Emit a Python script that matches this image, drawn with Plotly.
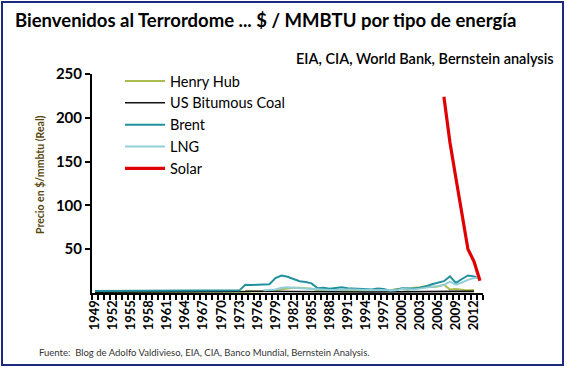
import plotly.graph_objects as go

years = list(range(1949, 2014))

henry_hub = [1.0]*25 + [1.2, 1.4, 1.8, 2.0, 2.2, 3.5, 4.5, 5.5, 6.0, 6.0, 5.5, 5.0, 3.0, 2.5, 2.3, 2.3, 2.5, 2.5, 2.2, 2.0, 2.0, 2.3, 2.8, 2.5, 2.5, 4.5, 4.5, 3.5, 6.0, 6.5, 8.0, 7.0, 7.5, 9.5, 4.0, 4.5, 4.0, 3.0, 3.5]
us_coal = [1.0]*25 + [1.8, 2.0, 2.0, 2.0, 2.0, 2.0, 2.0, 2.0, 1.8, 1.8, 1.7, 1.5, 1.4, 1.3, 1.3, 1.3, 1.2, 1.2, 1.2, 1.2, 1.2, 1.1, 1.1, 1.1, 1.0, 1.0, 1.1, 1.1, 1.1, 1.2, 1.4, 1.5, 1.5, 1.7, 1.8, 1.8, 1.9, 1.8, 1.8]
brent = [2.3]*24 + [3.0, 9.5, 9.0, 9.5, 9.5, 10.0, 17.0, 20.0, 18.5, 16.0, 13.5, 12.5, 11.0, 5.5, 6.0, 5.0, 5.5, 6.5, 5.5, 5.0, 4.5, 4.0, 4.0, 5.0, 4.5, 2.5, 3.5, 5.5, 5.0, 5.0, 6.0, 7.5, 10.0, 12.0, 13.5, 19.0, 11.5, 16.0, 20.0, 19.0, 16.0]
lng = [None]*28 + [3.0, 3.5, 4.0, 6.0, 6.5, 6.0, 5.5, 5.5, 5.0, 4.0, 3.5, 3.5, 3.5, 4.0, 4.0, 4.0, 3.5, 3.5, 3.5, 3.5, 3.5, 3.0, 3.0, 4.5, 4.5, 4.0, 5.0, 6.0, 7.5, 8.5, 9.0, 13.0, 9.5, 12.0, 15.0, 17.0, 17.0]
solar = [None]*58 + [224, 172, 131, 92, 50, 36, 14]

series = [
    ("Henry Hub", henry_hub, "#a9bd52", 2),
    ("US Bitumous Coal", us_coal, "#111111", 1.6),
    ("Brent", brent, "#23909e", 2),
    ("LNG", lng, "#93cfdb", 2),
    ("Solar", solar, "#e00000", 3.2),
]

fig = go.Figure()
for i, (name, vals, color, w) in enumerate(series):
    fig.add_trace(go.Scatter(x=years, y=vals, name=name, mode="lines",
                             line=dict(color=color, width=w), legendgroup=f"g{i}"))

L, R, T, B = 92, 84, 74, 75
PW, PH = 567 - L - R, 368 - T - B
def px(x): return (x - L) / PW
def py(y): return (368 - B - y) / PH

fig.update_layout(
    width=567, height=368,
    margin=dict(l=L, r=R, t=T, b=B),
    paper_bgcolor="white", plot_bgcolor="white",
    font=dict(family="Lato, 'Open Sans', sans-serif", color="black"),
    showlegend=True,
    legend=dict(x=px(120), y=py(65), xanchor="left", yanchor="top",
                bgcolor="rgba(0,0,0,0)", font=dict(size=14.5, color="black"),
                tracegroupgap=0, itemwidth=40),
    xaxis=dict(range=[1948.5, 2013.5], tickmode="linear", tick0=1949, dtick=3,
               tickangle=-90, ticks="", showgrid=False, zeroline=False,
               showline=True, linecolor="black", linewidth=2,
               tickfont=dict(size=13, color="black", weight="bold"),
               minor=dict(ticks="outside", tick0=1948.5, dtick=1, ticklen=5,
                          tickwidth=1.5, tickcolor="black", showgrid=False)),
    yaxis=dict(range=[0, 250], tickvals=[50, 100, 150, 200, 250],
               ticks="outside", ticklen=5, tickwidth=1.5, tickcolor="black",
               showgrid=False, zeroline=False, showline=True,
               linecolor="black", linewidth=2,
               tickfont=dict(size=15, color="black", weight="bold")),
)

fig.add_shape(type="rect", xref="paper", yref="paper",
              x0=px(2), x1=px(563), y0=py(365), y1=py(2),
              line=dict(color="#1c2a80", width=2), layer="below")

anns = [
    dict(text="Bienvenidos al Terrordome ... $ / MMBTU por tipo de energía",
         x=px(13), y=py(20), xanchor="left", yanchor="middle",
         font=dict(size=18.5, color="black", weight="bold")),
    dict(text="EIA, CIA, World Bank, Bernstein analysis",
         x=px(556), y=py(58), xanchor="right", yanchor="middle",
         font=dict(size=14.5, color="black", weight=600)),
    dict(text="Fuente:  Blog de Adolfo Valdivieso, EIA, CIA, Banco Mundial, Bernstein Analysis.",
         x=px(37), y=py(352), xanchor="left", yanchor="middle",
         font=dict(size=9.5, color="#333333")),
    dict(text="Precio en $/mmbtu (Real)", textangle=-90,
         x=px(40), y=py(174), xanchor="center", yanchor="middle",
         font=dict(size=10.5, color="#5a4810", weight="bold")),
]
for a in anns:
    fig.add_annotation(xref="paper", yref="paper", showarrow=False, **a)

fig.write_html("out.html", config={"displayModeBar": False},
               post_script="document.body.style.margin='0';document.body.style.overflow='hidden';")
